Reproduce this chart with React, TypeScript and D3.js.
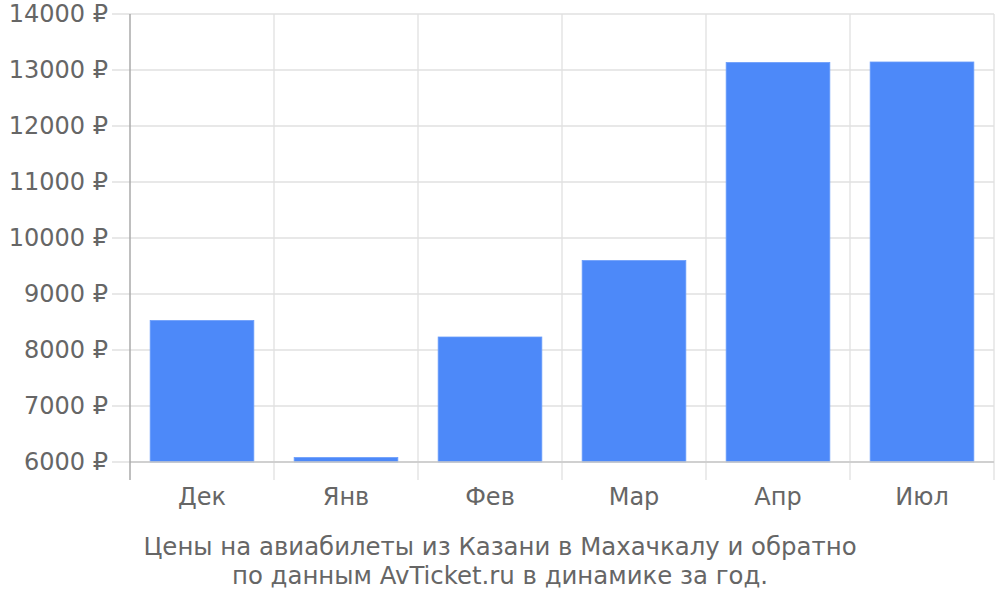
import React from "react";
import * as d3 from "d3";

const categories = ["Дек", "Янв", "Фев", "Мар", "Апр", "Июл"];
const prices = [8527, 6080, 8232, 9598, 13134, 13143];
const yTicks = [6000, 7000, 8000, 9000, 10000, 11000, 12000, 13000, 14000];
const titleLines = [
  "Цены на авиабилеты из Казани в Махачкалу и обратно",
  "по данным AvTicket.ru в динамике за год.",
];

export default function App() {
  const W = 1000, H = 600;
  const left = 130, right = 994, top = 14, bottom = 462;
  const x = d3.scaleBand<string>().domain(categories).range([left, right]).paddingInner(0.28).paddingOuter(0.14);
  const xb = d3.scaleBand<string>().domain(categories).range([left, right]);
  const y = d3.scaleLinear().domain([6000, 14000]).range([bottom, top]);
  const font = "DejaVu Sans, sans-serif";
  const textColor = "#666";
  return (
    <svg width={W} height={H} style={{ position: "absolute", left: 0, top: 0 }} fontFamily={font}>
      {yTicks.map((t) => (
        <g key={t}>
          <line x1={112} x2={right} y1={y(t)} y2={y(t)} stroke="#e0e0e0" strokeWidth={1.3} />
          <text x={108} y={y(t)} dy="0.35em" textAnchor="end" fontSize={24} fill={textColor}>
            {t} ₽
          </text>
        </g>
      ))}
      {categories.map((c, i) => (
        <line key={c} x1={xb(c)! + xb.bandwidth()} x2={xb(c)! + xb.bandwidth()} y1={top} y2={480} stroke="#e0e0e0" strokeWidth={1.3} />
      ))}
      {categories.map((c, i) => (
        <rect key={c} x={x(c)} y={y(prices[i])} width={x.bandwidth()} height={bottom - y(prices[i])} fill="#4d89f9" stroke="#6b9dfa" strokeWidth={0.8} />
      ))}
      <line x1={left} x2={right} y1={bottom} y2={bottom} stroke="#c8c8c8" strokeWidth={1.5} />
      <line x1={left} x2={left} y1={top} y2={480} stroke="#aaa" strokeWidth={1.5} />
      {categories.map((c) => (
        <text key={c} x={xb(c)! + xb.bandwidth() / 2} y={505} textAnchor="middle" fontSize={24} fill={textColor}>
          {c}
        </text>
      ))}
      {titleLines.map((l, i) => (
        <text key={i} x={500} y={555 + i * 29} textAnchor="middle" fontSize={24.4} fill={textColor}>
          {l}
        </text>
      ))}
    </svg>
  );
}
